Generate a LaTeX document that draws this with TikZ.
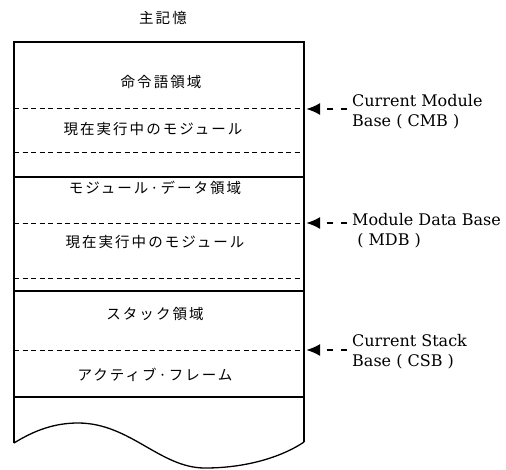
\documentclass[tikz,border=0pt]{standalone}
\usepackage{fontspec}
\newfontfamily\jfont[LetterSpace=14]{Noto Sans CJK JP}
\newfontfamily\efont{DejaVu Serif}
\usetikzlibrary{arrows.meta}
\tikzset{
  jtext/.style={font=\jfont\fontsize{14.5}{17}\selectfont, inner sep=0pt},
  etext/.style={font=\efont\fontsize{16}{20}\selectfont, align=left, anchor=west, inner sep=0pt},
  outline/.style={line width=2.2pt},
  solidsep/.style={line width=1.3pt},
  dashsep/.style={line width=0.9pt, dash pattern=on 5pt off 3.5pt},
  ptr/.style={line width=2.2pt, dash pattern=on 6pt off 8pt, -{Latex[length=14pt,width=12pt]}}
}
\begin{document}
\begin{tikzpicture}[x=1pt,y=-1pt]
\useasboundingbox (0,0) rectangle (506,469);
% box outline with wavy bottom
\coordinate (tl) at (14,42);
\coordinate (tr) at (304,42);
\coordinate (bl) at (14,443);
\coordinate (br) at (304,442);
\draw[outline, line join=miter] (bl) -- (tl) -- (tr) -- (br);
\draw[line width=1.3pt] (bl) .. controls (35,430) and (55,423) .. (78,423)
  .. controls (130,423) and (160,468) .. (205,468)
  .. controls (250,468) and (285,455) .. (br);
% separators
\coordinate (l1) at (14,108);  \coordinate (r1) at (304,108);
\coordinate (l2) at (14,152);  \coordinate (r2) at (304,152);
\coordinate (l3) at (14,177);  \coordinate (r3) at (304,177);
\coordinate (l4) at (14,223);  \coordinate (r4) at (304,223);
\coordinate (l5) at (14,278);  \coordinate (r5) at (304,278);
\coordinate (l6) at (14,291);  \coordinate (r6) at (304,291);
\coordinate (l7) at (14,350);  \coordinate (r7) at (304,350);
\coordinate (l8) at (14,397);  \coordinate (r8) at (304,397);
\draw[dashsep] (l1) -- (r1);
\draw[dashsep] (l2) -- (r2);
\draw[solidsep] (l3) -- (r3);
\draw[dashsep] (l4) -- (r4);
\draw[dashsep] (l5) -- (r5);
\draw[solidsep] (l6) -- (r6);
\draw[dashsep] (l7) -- (r7);
\draw[solidsep] (l8) -- (r8);
% texts
\node[jtext] (title) at (163,18) {主記憶};
\node[jtext] (t1) at (161,82) {命令語領域};
\node[jtext] (t2) at (153,129) {現在実行中のモジュール};
\node[jtext] (t3) at (155,188) {モジュール·データ領域};
\node[jtext] (t4) at (155,242) {現在実行中のモジュール};
\node[jtext] (t5) at (155,314) {スタック領域};
\node[jtext] (t6) at (155,375) {アクティブ·フレーム};
% pointer labels
\node[etext] (cmb) at (352,112) {Current Module\\Base ( CMB )};
\node[etext] (mdb) at (352,231) {Module Data Base\\\ ( MDB )};
\node[etext] (csb) at (352,352) {Current Stack\\Base ( CSB )};
\coordinate (a1) at (347,109);
\coordinate (a2) at (347,223);
\coordinate (a3) at (347,350);
\coordinate (h1) at (306,109);
\coordinate (h2) at (306,223);
\coordinate (h3) at (306,350);
\draw[ptr] (a1) -- (h1);
\draw[ptr] (a2) -- (h2);
\draw[ptr] (a3) -- (h3);
\end{tikzpicture}
\end{document}
